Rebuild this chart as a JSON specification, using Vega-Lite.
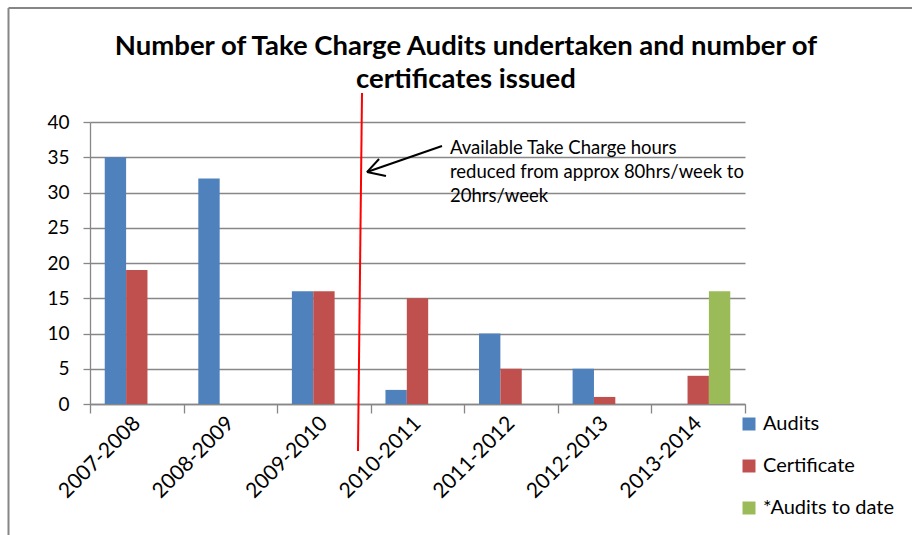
{
  "$schema": "https://vega.github.io/schema/vega-lite/v6.json",
  "width": 655,
  "height": 282,
  "autosize": {"type": "none"},
  "padding": {"left": 90, "top": 122, "right": 167, "bottom": 131},
  "background": "white",
  "config": {
    "font": "Lato",
    "view": {"stroke": null},
    "axis": {"labelFont": "Lato", "labelColor": "#000000"}
  },
  "data": {
    "values": [
      {"year": "2007-2008", "series": "Audits", "value": 35},
      {"year": "2007-2008", "series": "Certificate", "value": 19},
      {"year": "2008-2009", "series": "Audits", "value": 32},
      {"year": "2008-2009", "series": "Certificate", "value": 0},
      {"year": "2009-2010", "series": "Audits", "value": 16},
      {"year": "2009-2010", "series": "Certificate", "value": 16},
      {"year": "2010-2011", "series": "Audits", "value": 2},
      {"year": "2010-2011", "series": "Certificate", "value": 15},
      {"year": "2011-2012", "series": "Audits", "value": 10},
      {"year": "2011-2012", "series": "Certificate", "value": 5},
      {"year": "2012-2013", "series": "Audits", "value": 5},
      {"year": "2012-2013", "series": "Certificate", "value": 1},
      {"year": "2013-2014", "series": "Certificate", "value": 4},
      {"year": "2013-2014", "series": "*Audits to date", "value": 16}
    ]
  },
  "resolve": {"scale": {"x": "independent", "y": "independent"}},
  "layer": [
    {
      "mark": {"type": "bar"},
      "encoding": {
        "x": {
          "field": "year",
          "type": "nominal",
          "sort": null,
          "scale": {"paddingInner": 0, "paddingOuter": 0},
          "axis": {
            "title": null,
            "labelAngle": -45,
            "labelAlign": "right",
            "labelBaseline": "middle",
            "labelFontSize": 21,
            "labelPadding": 7,
            "tickBand": "extent",
            "tickSize": 9,
            "tickColor": "#878787",
            "domainColor": "#878787",
            "tickWidth": 1.3,
            "domainWidth": 1.3
          }
        },
        "xOffset": {
          "field": "series",
          "type": "nominal",
          "scale": {"domain": ["Audits", "Certificate", "*Audits to date"], "paddingInner": 0, "paddingOuter": 0.69}
        },
        "y": {
          "field": "value",
          "type": "quantitative",
          "scale": {"domain": [0, 40], "nice": false},
          "axis": {
            "title": null,
            "values": [0, 5, 10, 15, 20, 25, 30, 35, 40],
            "labelFontSize": 19,
            "labelPadding": 14,
            "tickSize": 7,
            "tickColor": "#878787",
            "tickWidth": 1.3,
            "domainColor": "#878787",
            "domainWidth": 1.3,
            "grid": true,
            "gridColor": "#878787",
            "gridWidth": 1.3
          }
        },
        "color": {
          "field": "series",
          "type": "nominal",
          "scale": {"domain": ["Audits", "Certificate", "*Audits to date"], "range": ["#4F81BD", "#C0504D", "#9BBB59"]},
          "legend": {
            "title": null,
            "orient": "none",
            "legendX": 649,
            "legendY": 292,
            "symbolType": "square",
            "symbolSize": 169,
            "symbolStrokeWidth": 0,
            "labelFontSize": 20,
            "labelFont": "Lato",
            "labelColor": "#000000",
            "labelOffset": 4,
            "rowPadding": 22
          }
        }
      }
    },
    {
      "data": {"values": [{}]},
      "resolve": {"scale": {"x": "shared", "y": "shared"}},
      "layer": [
        {
          "mark": {"type": "rule", "color": "#FF0000", "strokeWidth": 2},
          "encoding": {
            "x": {"datum": 2.907, "type": "quantitative", "scale": {"domain": [0, 7], "nice": false, "zero": false}, "axis": null},
            "x2": {"datum": 2.864},
            "y": {"datum": 44.1, "type": "quantitative", "scale": {"domain": [0, 40], "nice": false, "zero": false}, "axis": null},
            "y2": {"datum": -6.67}
          }
        },
        {
          "mark": {"type": "rule", "color": "#000000", "strokeWidth": 2},
          "encoding": {
            "x": {"datum": 3.762, "type": "quantitative", "axis": null},
            "x2": {"datum": 2.96},
            "y": {"datum": 36.6, "type": "quantitative", "axis": null},
            "y2": {"datum": 32.9}
          }
        },
        {
          "mark": {"type": "rule", "color": "#000000", "strokeWidth": 2},
          "encoding": {
            "x": {"datum": 3.089, "type": "quantitative", "axis": null},
            "x2": {"datum": 2.96},
            "y": {"datum": 34.75, "type": "quantitative", "axis": null},
            "y2": {"datum": 32.9}
          }
        },
        {
          "mark": {"type": "rule", "color": "#000000", "strokeWidth": 2},
          "encoding": {
            "x": {"datum": 3.163, "type": "quantitative", "axis": null},
            "x2": {"datum": 2.96},
            "y": {"datum": 32.34, "type": "quantitative", "axis": null},
            "y2": {"datum": 32.9}
          }
        },
        {
          "mark": {"type": "rule", "color": "#868686", "strokeWidth": 2},
          "encoding": {
            "x": {"datum": -0.871, "type": "quantitative", "axis": null},
            "y": {"datum": 56.17, "type": "quantitative", "axis": null},
            "y2": {"datum": -18.6}
          }
        },
        {
          "mark": {"type": "rule", "color": "#868686", "strokeWidth": 2},
          "encoding": {
            "x": {"datum": -0.871, "type": "quantitative", "axis": null},
            "x2": {"datum": 8.8},
            "y": {"datum": 56.17, "type": "quantitative", "axis": null}
          }
        },
        {
          "mark": {"type": "text", "font": "Lato", "fontSize": 18.5, "fontWeight": "normal", "align": "left", "baseline": "top", "lineHeight": 24, "color": "#000000"},
          "encoding": {
            "x": {"datum": 3.847, "type": "quantitative", "axis": null},
            "y": {"datum": 37.6, "type": "quantitative", "axis": null},
            "text": {"value": ["Available Take Charge hours", "reduced from approx 80hrs/week to", "20hrs/week"]}
          }
        },
        {
          "mark": {"type": "text", "font": "Lato", "fontSize": 27.5, "fontWeight": "bold", "align": "center", "baseline": "alphabetic", "color": "#000000"},
          "encoding": {
            "x": {"datum": 4.018, "type": "quantitative", "axis": null},
            "y": {"datum": 49.5, "type": "quantitative", "axis": null},
            "text": {"value": "Number of Take Charge Audits undertaken and number of"}
          }
        },
        {
          "mark": {"type": "text", "font": "Lato", "fontSize": 27.5, "fontWeight": "bold", "align": "center", "baseline": "alphabetic", "color": "#000000"},
          "encoding": {
            "x": {"datum": 4.018, "type": "quantitative", "axis": null},
            "y": {"datum": 44.8, "type": "quantitative", "axis": null},
            "text": {"value": "certificates issued"}
          }
        }
      ]
    }
  ]
}
